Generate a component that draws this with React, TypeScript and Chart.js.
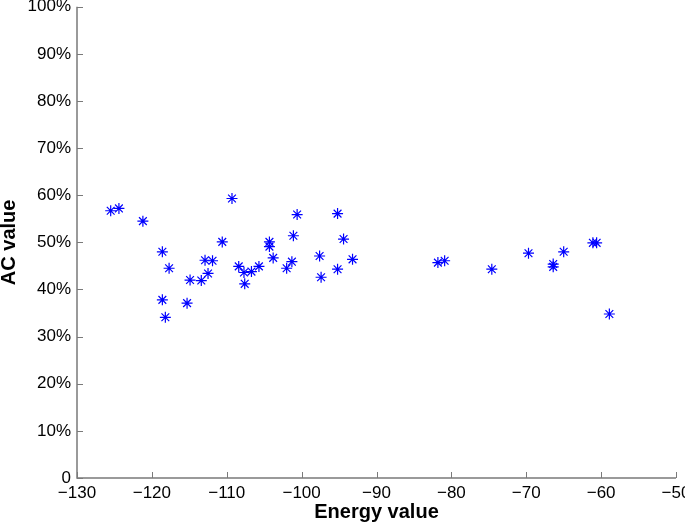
import React, { useEffect, useRef } from "react";
import { Chart, registerables } from "chart.js";

Chart.register(...registerables);

const energyValues: number[] = [
  -125.5, -124.4, -121.2, -118.6, -117.7, -118.6, -118.2, -115.3, -114.9,
  -113.4, -112.9, -112.5, -111.9, -110.6, -109.3, -108.4, -107.6, -107.7,
  -106.7, -105.7, -104.3, -104.3, -103.8, -102.0, -101.3, -101.1, -100.6,
  -97.6, -97.4, -95.2, -95.2, -94.4, -93.2,
  -81.8, -80.9, -74.6, -69.7, -66.4, -66.4, -65.0, -61.1, -60.6, -58.9,
];

const acValues: number[] = [
  56.7, 57.2, 54.5, 48.0, 44.5, 37.8, 34.1, 37.1, 42.0,
  41.9, 46.2, 43.4, 46.1, 50.1, 59.3, 44.9, 41.2, 43.6,
  43.8, 44.9, 50.1, 49.1, 46.7, 44.5, 45.9, 51.4, 55.9,
  47.1, 42.6, 56.1, 44.3, 50.7, 46.4,
  45.7, 46.1, 44.3, 47.7, 45.4, 44.8, 48.0, 49.9, 49.9, 34.8,
];

const xTicks: number[] = [-130, -120, -110, -100, -90, -80, -70, -60, -50];
const yTicks: number[] = [0, 10, 20, 30, 40, 50, 60, 70, 80, 90, 100];

const AXIS_COLOR = "#7a7a7a";
const FONT = "Liberation Sans, Arial, Helvetica, sans-serif";

const insideTicks = {
  id: "insideTicks",
  afterDraw(chart: any) {
    const ctx = chart.ctx;
    const xs = chart.scales.x;
    const ys = chart.scales.y;
    const area = chart.chartArea;
    ctx.save();
    ctx.strokeStyle = AXIS_COLOR;
    ctx.lineWidth = 1.5;
    ctx.beginPath();
    ctx.moveTo(area.left, area.top);
    ctx.lineTo(area.left, area.bottom);
    ctx.lineTo(area.right, area.bottom);
    ctx.stroke();
    ctx.lineWidth = 1;
    ctx.beginPath();
    xTicks.forEach((v) => {
      const px = Math.round(xs.getPixelForValue(v)) + 0.5;
      ctx.moveTo(px, area.bottom);
      ctx.lineTo(px, area.bottom - 6);
    });
    yTicks.forEach((v) => {
      const py = Math.round(ys.getPixelForValue(v)) + 0.5;
      ctx.moveTo(area.left, py);
      ctx.lineTo(area.left + 6, py);
    });
    ctx.stroke();
    ctx.restore();
  },
};

export default function App() {
  const canvasRef = useRef<HTMLCanvasElement | null>(null);

  useEffect(() => {
    document.body.style.margin = "0";
    const canvas = canvasRef.current;
    if (!canvas) return;
    const points = energyValues.map((x, i) => ({ x, y: acValues[i] }));
    const chart = new Chart(canvas, {
      type: "scatter",
      data: {
        datasets: [
          {
            data: points,
            pointStyle: "star",
            pointRadius: 5.5,
            pointHoverRadius: 5.5,
            borderColor: "#0000ff",
            backgroundColor: "#0000ff",
            pointBorderWidth: 1.2,
          },
        ],
      },
      options: {
        animation: false,
        responsive: false,
        maintainAspectRatio: false,
        layout: { padding: { top: 5, right: 9, left: 0, bottom: 0 } },
        plugins: { legend: { display: false }, tooltip: { enabled: false } },
        scales: {
          x: {
            type: "linear",
            min: -130,
            max: -50,
            afterBuildTicks: (s: any) => {
              s.ticks = xTicks.map((v) => ({ value: v }));
            },
            afterFit: (s: any) => {
              s.height = 48;
              s.paddingLeft = 0;
              s.paddingRight = 0;
            },
            border: { display: false },
            grid: { display: false, drawTicks: false },
            ticks: {
              padding: 5,
              color: "#000",
              font: { family: FONT, size: 17 },
              maxRotation: 0,
              callback: (v: any) => String(v).replace("-", "\u2212"),
            },
            title: {
              display: true,
              text: "Energy value",
              color: "#000",
              font: { family: FONT, size: 20, weight: "bold" },
              padding: { top: 0, bottom: 2 },
            },
          },
          y: {
            type: "linear",
            min: 0,
            max: 100,
            afterBuildTicks: (s: any) => {
              s.ticks = yTicks.map((v) => ({ value: v }));
            },
            afterFit: (s: any) => {
              s.width = 77;
              s.paddingTop = 0;
              s.paddingBottom = 0;
            },
            border: { display: false },
            grid: { display: false, drawTicks: false },
            ticks: {
              padding: 6,
              color: "#000",
              font: { family: FONT, size: 17 },
              callback: (v: any) => (v === 0 ? "0" : v + "%"),
            },
            title: {
              display: true,
              text: "AC value",
              color: "#000",
              font: { family: FONT, size: 20, weight: "bold", lineHeight: 0.9 },
              padding: { top: 0, bottom: 0 },
            },
          },
        },
      },
      plugins: [insideTicks],
    });
    return () => chart.destroy();
  }, []);

  return (
    <div style={{ width: 685, height: 526 }}>
      <canvas ref={canvasRef} width={685} height={526} style={{ display: "block" }} />
    </div>
  );
}
